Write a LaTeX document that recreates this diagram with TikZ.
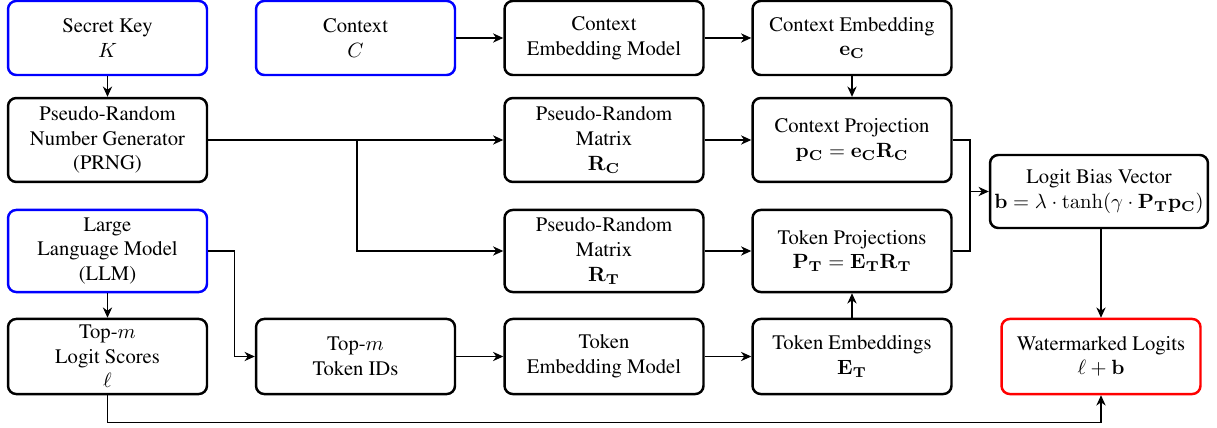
\documentclass[tikz,border=0pt]{standalone}
\usepackage[T1]{fontenc}
\usepackage{times}
\usetikzlibrary{arrows.meta}
\tikzset{
  box/.style={draw=black, line width=1.2pt, rounded corners=4pt, align=center,
    minimum width=96.5pt, inner sep=2pt, font=\rmfamily\fontsize{10}{12}\selectfont},
  bluebox/.style={box, draw=blue},
  redbox/.style={box, draw=red},
  conn/.style={line width=0.5pt, -{Stealth[length=5pt,width=4.5pt,inset=1.6pt]}},
  line/.style={line width=0.5pt},
  h1/.style={minimum height=35.9pt},
  h2/.style={minimum height=40.7pt},
  h3/.style={minimum height=39.8pt},
  h4/.style={minimum height=36.4pt},
}
\begin{document}
\begin{tikzpicture}[x=0.485pt, y=-0.485pt]
\useasboundingbox (0,0) rectangle (1217,428);
% row 1
\node[bluebox,h1] (key) at (107.5,38) {Secret Key\\$K$};
\node[bluebox,h1] (ctx) at (355.5,38) {Context\\$C$};
\node[box,h1] (cem) at (604,38) {Context\\Embedding Model};
\node[box,h1] (ce) at (852,38) {Context Embedding\\$\mathbf{e_C}$};
% row 2
\node[box,h2] (prng) at (107.5,140) {Pseudo-Random\\Number Generator\\(PRNG)};
\node[box,h2] (rc) at (604,140) {Pseudo-Random\\Matrix\\$\mathbf{R_C}$};
\node[box,h2] (cp) at (852,140) {Context Projection\\$\mathbf{p_C}=\mathbf{e_C}\mathbf{R_C}$};
% row 3
\node[bluebox,h3] (llm) at (107.5,251) {Large\\Language Model\\(LLM)};
\node[box,h3] (rt) at (604,251) {Pseudo-Random\\Matrix\\$\mathbf{R_T}$};
\node[box,h3] (tp) at (852,251) {Token Projections\\$\mathbf{P_T}=\mathbf{E_T}\mathbf{R_T}$};
% logit bias
\node[box, minimum width=105.7pt, minimum height=35.4pt] (lb) at (1099,191.5) {Logit Bias Vector\\$\mathbf{b}=\lambda\cdot\tanh(\gamma\cdot\mathbf{P_T}\mathbf{p_C})$};
% row 4
\node[box,h4] (ls) at (107.5,356.5) {Top-$m$\\Logit Scores\\$\ell$};
\node[box,h4] (ids) at (355.5,356.5) {Top-$m$\\Token IDs};
\node[box,h4] (tem) at (604,356.5) {Token\\Embedding Model};
\node[box,h4] (te) at (852,356.5) {Token Embeddings\\$\mathbf{E_T}$};
\node[redbox,h4] (wm) at (1101,356.5) {Watermarked Logits\\$\ell+\mathbf{b}$};
% connectors
\draw[conn] (key) -- (prng);
\draw[conn] (ctx) -- (cem);
\draw[conn] (cem) -- (ce);
\draw[conn] (ce) -- (cp);
\draw[conn] (prng.east) -- (rc.west);
\coordinate (br) at (357,140);
\draw[conn] (br) |- (rt.west);
\draw[conn] (rc) -- (cp);
\draw[conn] (rt) -- (tp);
\draw[conn] (te) -- (tp);
\coordinate (jn) at (970,191.5);
\draw[line] (cp.east) -| (jn);
\draw[line] (tp.east) -| (jn);
\draw[conn] (jn) -- (lb.west);
\draw[conn] (lb.south -| wm.north) -- (wm.north);
\draw[conn] (llm) -- (ls);
\draw[conn] (llm.east) -- ++(26,0) |- (ids.west);
\draw[conn] (ids) -- (tem);
\draw[conn] (tem) -- (te);
\draw[conn] (ls.south) -- ++(0,27) -| (wm.south);
\end{tikzpicture}
\end{document}
